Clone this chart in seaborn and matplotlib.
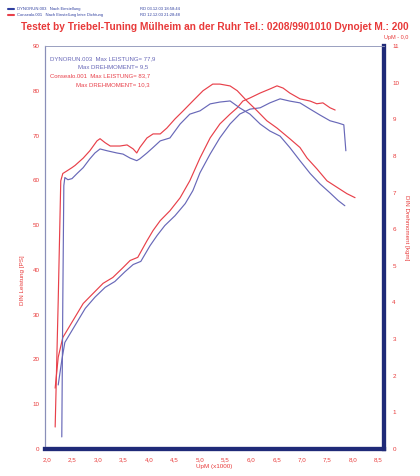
import matplotlib
matplotlib.use("Agg")
import matplotlib.pyplot as plt
import seaborn as sns
import pandas as pd

# ---- data ----
rpm_power_red = [2.16, 2.22, 2.31, 2.51, 2.71, 2.90, 3.10, 3.29, 3.49, 3.63, 3.78, 3.96, 4.08, 4.22, 4.41,
                 4.61, 4.80, 5.00, 5.20, 5.39, 5.59, 5.73, 5.84, 5.98, 6.18, 6.37, 6.51, 6.63, 6.76, 6.96,
                 7.16, 7.29, 7.41, 7.55, 7.65]
power_red = [13.6, 20.5, 24.9, 28.7, 32.5, 34.7, 37.0, 38.3, 40.5, 42.1, 42.8, 46.5, 48.8, 51.0, 53.2,
             56.1, 59.9, 65.0, 69.5, 72.6, 74.8, 76.2, 77.7, 78.4, 79.5, 80.4, 81.1, 80.6, 79.5, 78.2,
             77.7, 77.1, 77.3, 76.2, 75.7]

rpm_power_blue = [2.22, 2.29, 2.35, 2.55, 2.75, 2.94, 3.14, 3.33, 3.53, 3.69, 3.84, 4.02, 4.16, 4.31, 4.51,
                  4.71, 4.86, 5.00, 5.20, 5.39, 5.59, 5.78, 5.98, 6.18, 6.37, 6.57, 6.76, 6.96, 7.16, 7.35,
                  7.55, 7.71, 7.82, 7.86]
power_blue = [14.3, 19.8, 23.8, 27.6, 31.4, 33.9, 36.1, 37.4, 39.6, 41.2, 41.9, 45.4, 47.7, 49.9, 52.1,
              54.8, 57.7, 61.7, 65.9, 69.5, 72.6, 74.8, 75.9, 76.2, 77.3, 78.2, 77.7, 77.3, 75.9, 74.6,
              73.3, 72.8, 72.4, 66.6]

rpm_torque_red = [2.16, 2.22, 2.27, 2.31, 2.39, 2.49, 2.55, 2.71, 2.84, 2.98, 3.04, 3.14, 3.24, 3.43, 3.57,
                  3.69, 3.76, 3.82, 3.96, 4.08, 4.22, 4.35, 4.51, 4.67, 4.86, 5.06, 5.25, 5.39, 5.59, 5.73,
                  5.92, 6.12, 6.31, 6.51, 6.76, 6.96, 7.10, 7.29, 7.49, 7.69, 7.88, 8.04]
torque_red = [0.60, 4.06, 7.32, 7.52, 7.59, 7.68, 7.74, 7.94, 8.14, 8.41, 8.47, 8.36, 8.27, 8.27, 8.30,
              8.19, 8.08, 8.23, 8.49, 8.60, 8.60, 8.76, 9.01, 9.23, 9.50, 9.78, 9.96, 9.96, 9.91, 9.78,
              9.50, 9.23, 8.96, 8.76, 8.47, 8.23, 7.94, 7.65, 7.32, 7.14, 6.97, 6.86]

rpm_torque_blue = [2.29, 2.31, 2.33, 2.35, 2.41, 2.49, 2.59, 2.71, 2.84, 2.94, 3.04, 3.18, 3.37, 3.49, 3.63,
                   3.76, 3.82, 3.96, 4.08, 4.22, 4.41, 4.61, 4.80, 5.00, 5.20, 5.39, 5.59, 5.78, 5.98, 6.18,
                   6.37, 6.57, 6.76, 6.96, 7.16, 7.35, 7.55, 7.71, 7.84]
torque_blue = [0.33, 4.06, 7.19, 7.41, 7.35, 7.38, 7.52, 7.68, 7.92, 8.08, 8.19, 8.14, 8.08, 8.05, 7.94,
               7.87, 7.92, 8.08, 8.23, 8.41, 8.49, 8.87, 9.14, 9.23, 9.42, 9.47, 9.50, 9.31, 9.14, 8.87,
               8.68, 8.54, 8.23, 7.87, 7.52, 7.24, 6.99, 6.78, 6.64]

x_ticks = [2.0, 2.5, 3.0, 3.5, 4.0, 4.5, 5.0, 5.5, 6.0, 6.5, 7.0, 7.5, 8.0, 8.5]
x_tick_labels = ["2,0", "2,5", "3,0", "3,5", "4,0", "4,5", "5,0", "5,5", "6,0", "6,5", "7,0", "7,5", "8,0", "8,5"]
left_ticks = [0, 10, 20, 30, 40, 50, 60, 70, 80, 90]
right_ticks = [0, 1, 2, 3, 4, 5, 6, 7, 8, 9, 10, 11]

RED = "#e8404a"
BLUE = "#6868b8"
NAVY = "#1f2a78"
TXT_RED = "#e83a3a"

sns.set_theme(style="white")
plt.rcParams["font.family"] = ["Liberation Sans", "DejaVu Sans"]

fig = plt.figure(figsize=(4.2, 4.76), dpi=100)
ax = fig.add_axes([45 / 420, 1 - 449 / 476, 339 / 420, (449 - 46) / 476])
ax2 = ax.twinx()

df_pr = pd.DataFrame({"rpm": rpm_power_red, "v": power_red})
df_pb = pd.DataFrame({"rpm": rpm_power_blue, "v": power_blue})
df_tr = pd.DataFrame({"rpm": rpm_torque_red, "v": torque_red})
df_tb = pd.DataFrame({"rpm": rpm_torque_blue, "v": torque_blue})

sns.lineplot(data=df_pb, x="rpm", y="v", ax=ax, color=BLUE, lw=0.85, sort=False, estimator=None)
sns.lineplot(data=df_pr, x="rpm", y="v", ax=ax, color=RED, lw=0.85, sort=False, estimator=None)
sns.lineplot(data=df_tb, x="rpm", y="v", ax=ax2, color=BLUE, lw=0.85, sort=False, estimator=None)
sns.lineplot(data=df_tr, x="rpm", y="v", ax=ax2, color=RED, lw=0.85, sort=False, estimator=None)

xl = (2.0 - 2 / 51, 8.5 + 5.5 / 51)
ax.set_xlim(*xl)
ax.set_ylim(0, 90)
ax2.set_ylim(0, 11)

ax.set_xticks(x_ticks)
ax.set_xticklabels(x_tick_labels)
ax.set_yticks(left_ticks)
ax2.set_yticks(right_ticks)
for a in (ax, ax2):
    a.tick_params(axis="both", length=0, labelsize=4.5, labelcolor=TXT_RED, pad=6)
    a.grid(False)
ax.tick_params(axis="y", pad=4)

ax.set_xlabel("UpM (x1000)", fontsize=4.5, color=TXT_RED, labelpad=1)
ax.set_ylabel("DIN Leistung [PS]", fontsize=4.5, color=TXT_RED)
ax.yaxis.set_label_coords(-0.06, 0.42)
ax2.set_ylabel("DIN Drehmoment [kgm]", fontsize=4.5, color=TXT_RED, rotation=270)
ax2.yaxis.set_label_coords(1.075, 0.55)

for a in (ax, ax2):
    a.spines["left"].set_color("#8a8fb8")
    a.spines["left"].set_linewidth(0.8)
    a.spines["top"].set_color("#9aa0c0")
    a.spines["top"].set_linewidth(0.6)
    a.spines["right"].set_color(NAVY)
    a.spines["right"].set_linewidth(3)
    a.spines["bottom"].set_color(NAVY)
    a.spines["bottom"].set_linewidth(3)

# inner annotation
fs = 4.3
ax.text(0.015, 0.975, "DYNORUN.003  Max LEISTUNG= 77,9", transform=ax.transAxes, fontsize=fs, color=BLUE, va="top")
ax.text(0.305, 0.955, "Max DREHMOMENT= 9,5", transform=ax.transAxes, fontsize=fs, color=BLUE, va="top", ha="right")
ax.text(0.015, 0.933, "Consealo.001  Max LEISTUNG= 83,7", transform=ax.transAxes, fontsize=fs, color=RED, va="top")
ax.text(0.31, 0.911, "Max DREHMOMENT= 10,3", transform=ax.transAxes, fontsize=fs, color=RED, va="top", ha="right")

# header
fig.text(0.511, 1 - 27 / 476, "Testet by Triebel-Tuning M\u00fclheim an der Ruhr Tel.: 0208/9901010 Dynojet M.: 200",
         fontsize=7.3, color=TXT_RED, fontweight="bold", ha="center", va="center")
fig.text(408 / 420, 1 - 37 / 476, "UpM - 0,0", fontsize=4, color=TXT_RED, ha="right", va="center")

fig.lines.append(plt.Line2D([8 / 420, 14 / 420], [1 - 9 / 476, 1 - 9 / 476], transform=fig.transFigure, color="#3040a0", lw=1.5))
fig.lines.append(plt.Line2D([8 / 420, 14 / 420], [1 - 15 / 476, 1 - 15 / 476], transform=fig.transFigure, color=RED, lw=1.5))
fig.text(17 / 420, 1 - 9 / 476, "DYNORUN.003   Nach Einstellung", fontsize=3, color="#3040a0", va="center")
fig.text(17 / 420, 1 - 15 / 476, "Consealo.001   Nach Einstellung leise Dichtung", fontsize=3, color="#3040a0", va="center")
fig.text(140 / 420, 1 - 9 / 476, "RD 03.12.03 18:58:44", fontsize=3, color="#3040a0", va="center")
fig.text(140 / 420, 1 - 15 / 476, "RD 12.12.03 21:28:48", fontsize=3, color="#3040a0", va="center")

fig.savefig("out.png", dpi=100, facecolor="white")
